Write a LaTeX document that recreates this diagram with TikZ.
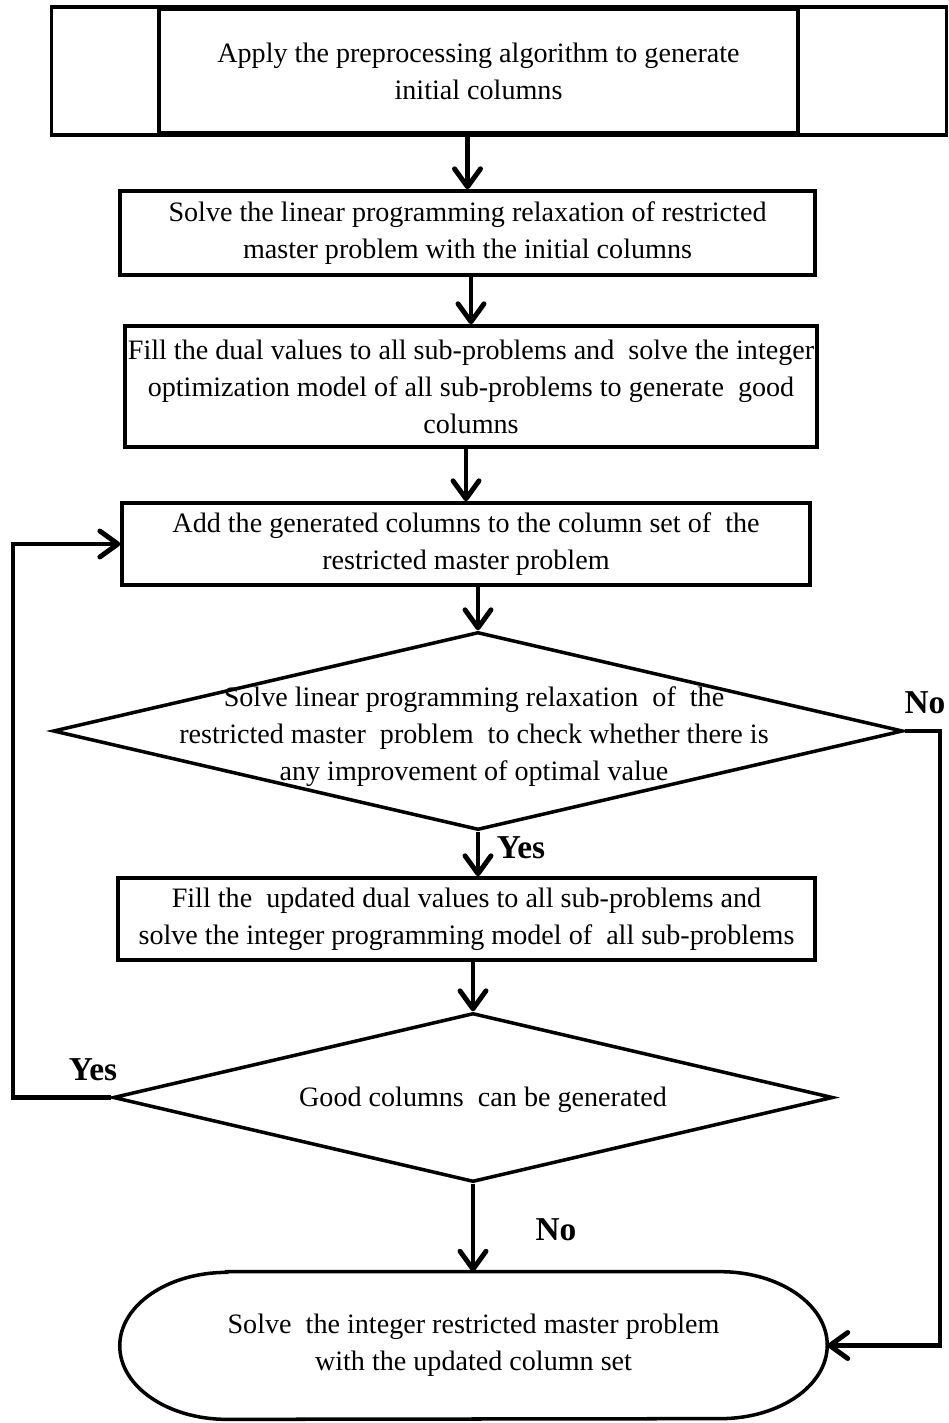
\documentclass[tikz,border=0pt]{standalone}
\usepackage{fontspec}
\setmainfont{Liberation Serif}
\usetikzlibrary{shapes.geometric, arrows.meta, calc}
\tikzset{
  procbox/.style={rectangle, draw=black, line width=2pt, align=center, inner sep=1pt,
                  font=\fontsize{16}{21}\selectfont},
  procline/.style={draw=black, line width=2pt},
  decshape/.style={diamond, draw=black, line width=2pt, inner sep=0pt},
  dectext/.style={align=center, inner sep=0pt, font=\fontsize{16}{21}\selectfont},
  termbox/.style={rectangle, draw=none, align=center, inner sep=0pt,
                  font=\fontsize{16}{21}\selectfont},
  flowarr/.style={draw=black, line width=2.8pt, -{Straight Barb[round, length=3.6mm, width=5.2mm]}},
  loopline/.style={flowarr, line join=miter},
  branchlbl/.style={font=\fontsize{19}{22}\selectfont\bfseries, inner sep=0pt},
}

\begin{document}
\begin{tikzpicture}[x=0.02cm, y=-0.02cm]

\useasboundingbox (0,0) rectangle (948,1423);

% boxes of the flow
\node[procbox, minimum width=12.78cm, minimum height=2.48cm] (b1) at (478.5,71)
 {Apply the preprocessing algorithm to generate\\initial columns};
\draw[procline] ($(b1.north west)+(-106,0)$) rectangle ($(b1.south east)+(147,0)$);

\node[procbox, minimum width=13.9cm, minimum height=1.68cm] (b2) at (467.5,233)
 {Solve the linear programming relaxation of restricted\\master problem with the initial columns};
\node[procbox, minimum width=13.84cm, minimum height=2.42cm] (b3) at (471,386.5)
 {Fill the dual values to all sub-problems and~ solve the integer\\optimization model of all sub-problems to generate~ good\\columns};
\node[procbox, minimum width=13.76cm, minimum height=1.64cm] (b4) at (466,544)
 {Add the generated columns to the column set of~ the\\restricted master problem};

\node[decshape, minimum width=17.0cm, minimum height=3.96cm] (d1) at (478,731) {};
\node[dectext] (d1txt) at (474,737)
 {Solve linear programming relaxation~ of~ the\\restricted master~ problem~ to check whether there is\\any improvement of optimal value};

\node[procbox, minimum width=13.94cm, minimum height=1.64cm] (b5) at (466.5,919)
 {Fill the~ updated dual values to all sub-problems and\\solve the integer programming model of~ all sub-problems};

\node[decshape, minimum width=14.4cm, minimum height=3.38cm] (d2) at (473,1097.5) {};
\node[dectext] (d2txt) at (483,1100) {Good columns~ can be generated};

\node[termbox, minimum width=14.14cm, minimum height=2.94cm] (term) at (473.5,1345.5)
 {Solve~ the integer restricted master problem\\with the updated column set};
\draw[procline] ($(term.north west)+(107,0)$) -- ($(term.north east)+(-107,0)$)
  arc[start angle=90, end angle=-90, x radius=2.14cm, y radius=1.47cm]
  -- ($(term.south west)+(107,0)$)
  arc[start angle=270, end angle=90, x radius=2.14cm, y radius=1.47cm] -- cycle;

% straight arrows
\draw[flowarr] (b1.south -| b2.north) -- (b2.north);
\draw[flowarr] (b2.south -| b3.north) -- (b3.north);
\draw[flowarr] (b3.south -| b4.north) -- (b4.north);
\draw[flowarr] (b4.south -| d1.north) -- (d1.north);
\draw[flowarr] (d1.south) -- (d1.south |- b5.north);
\draw[flowarr] (b5.south -| d2.north) -- (d2.north);
\draw[flowarr] (d2.south) -- (d2.south |- term.north);

% loops back and out
\coordinate (yesturn) at (13,1097.5);
\coordinate (noturn) at (940,731);
\draw[loopline] (d2.west) -- (yesturn) |- (b4.west);
\draw[loopline] (d1.east) -- (noturn) |- (term.east);

\node[branchlbl] (lblno1)  at (925,703)  {No};
\node[branchlbl] (lblyes1) at (521,848)  {Yes};
\node[branchlbl] (lblyes2) at (93,1070)  {Yes};
\node[branchlbl] (lblno2)  at (556,1230) {No};

\end{tikzpicture}
\end{document}
